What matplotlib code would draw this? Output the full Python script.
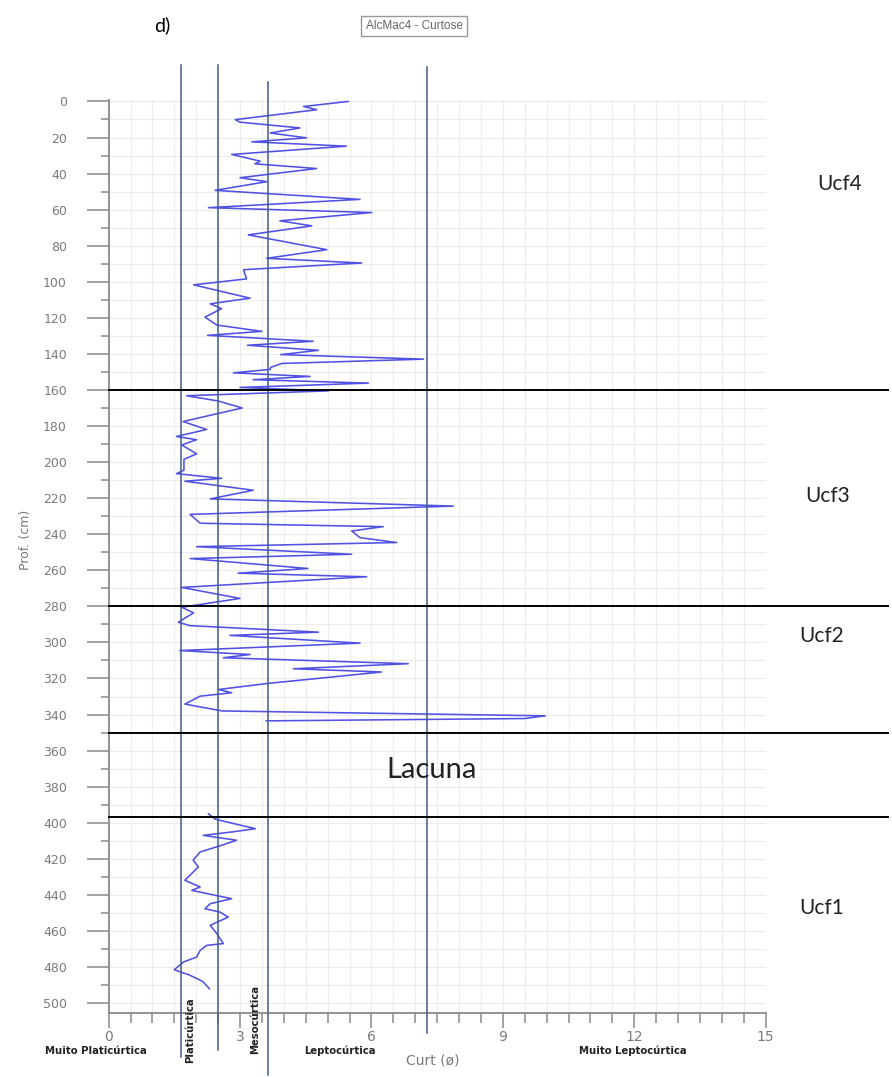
import matplotlib
matplotlib.use("Agg")
import matplotlib.pyplot as plt
from matplotlib.ticker import MultipleLocator

# ---------------- data ----------------
# Kurtosis profile, upper units (Ucf4 - Ucf2), depth in cm
upper_depth = [0, 2.8, 4.6, 10.1, 11.5, 14.7, 17.5, 20.2, 22.4, 24.8, 29.4, 33.1, 34.6,
               37.2, 42.3, 44.5, 49.3, 54.3, 58.9, 61.6, 66.2, 69.0, 74.0, 82.2, 87.0,
               89.6, 93.3, 98.4, 101.7, 109.1, 112.2, 114.9, 119.6, 124.0, 127.5, 129.7,
               133.0, 135.2, 138.0, 140.4, 142.9, 145.3, 147.5, 148.6, 150.5, 152.5,
               154.3, 156.2, 158.6, 160.5, 163.2, 166.1, 170.0, 177.5, 181.9, 185.8,
               187.6, 190.5, 195.4, 198.5, 204.5, 206.4, 209.0, 210.6, 215.6, 220.4,
               224.4, 229.0, 233.9, 235.8, 238.2, 241.9, 244.6, 246.9, 251.1, 253.5,
               259.0, 261.6, 263.6, 269.5, 275.6, 280.5, 283.6, 288.8, 290.7, 294.3,
               296.1, 300.4, 304.5, 306.7, 308.5, 311.8, 314.6, 316.4, 322.8, 326.1,
               327.9, 329.8, 334.2, 338.0, 340.7, 342.2, 343.5]
upper_curt = [5.47, 4.45, 4.75, 2.89, 3.00, 4.37, 3.69, 4.52, 3.27, 5.43, 2.81, 3.46, 3.34,
              4.75, 3.00, 3.61, 2.43, 5.74, 2.28, 6.01, 3.91, 4.64, 3.19, 4.98, 3.61,
              5.78, 3.08, 3.15, 1.94, 3.23, 2.32, 2.58, 2.20, 2.47, 3.50, 2.26,
              4.67, 3.17, 4.79, 3.93, 7.19, 3.95, 3.70, 3.69, 2.85, 4.60,
              3.30, 5.93, 3.00, 5.02, 1.78, 2.50, 3.05, 1.70, 2.24, 1.55,
              2.01, 1.67, 2.01, 1.72, 1.72, 1.55, 2.58, 1.74, 3.30, 2.32,
              7.87, 1.86, 2.09, 6.27, 5.55, 5.74, 6.58, 2.01, 5.55, 1.86,
              4.55, 2.96, 5.89, 1.67, 3.00, 1.67, 1.94, 1.59, 1.86, 4.79,
              2.77, 5.74, 1.63, 3.23, 2.62, 6.84, 4.22, 6.23, 3.61, 2.51,
              2.81, 2.09, 1.74, 2.60, 9.97, 9.50, 3.60]

# Kurtosis profile, lower unit (Ucf1)
lower_depth = [395, 398, 403.3, 405, 407, 409.7, 412.5, 416.2, 420.8, 424.5, 431.9, 435.6,
               437.5, 440.2, 442.1, 444.9, 447.7, 449.5, 452.3, 456.9, 461.5, 467, 468,
               470.8, 474.5, 477.2, 481.5, 484.5, 488.0, 492.0]
lower_curt = [2.28, 2.43, 3.35, 2.85, 2.16, 2.92, 2.58, 2.09, 1.93, 2.05, 1.74, 2.09,
              1.90, 2.43, 2.81, 2.32, 2.20, 2.54, 2.73, 2.32, 2.47, 2.62, 2.24,
              2.09, 2.01, 1.71, 1.50, 1.85, 2.15, 2.30]

# Kurtosis class limits and names
class_limits = [1.65, 2.5, 3.65, 7.27]
class_names = ["Muito Platicúrtica", "Platicúrtica", "Mesocúrtica",
               "Leptocúrtica", "Muito Leptocúrtica"]

# Stratigraphic unit boundaries (cm) and labels
unit_bounds = [160, 280, 350, 397]
unit_names = ["Ucf4", "Ucf3", "Ucf2", "Lacuna", "Ucf1"]

x_ticks = [0, 3, 6, 9, 12, 15]

# ---------------- figure ----------------
W, H = 892, 1077
fig = plt.figure(figsize=(W / 100, H / 100), dpi=100)
ax = fig.add_axes([108.6 / W, 1 - 1013 / H, 657 / W, 913 / H])


def ftext(x, y, s, **kw):
    fig.text(x / W, 1 - y / H, s, **kw)


gray = "#7a7a7a"
axis_font = ["DejaVu Sans"]
calib = ["Lato", "DejaVu Sans"]

ax.set_xlim(0, 15)
ax.set_ylim(505.5, -0.8)

ax.grid(which="both", color="#ececec", lw=0.8)
ax.set_axisbelow(True)

ax.plot(upper_curt, upper_depth, color="#5151e4", lw=1.15, zorder=3)
ax.plot(lower_curt, lower_depth, color="#5151e4", lw=1.15, zorder=3)

# class limits
vspan = [(-0.048, 1.038), (-0.040, 1.038), (-0.068, 1.020), (-0.022, 1.036)]
for v, (lo, hi) in zip(class_limits, vspan):
    ax.axvline(v, ymin=lo, ymax=hi, color="#3f5c8c", lw=1.1, clip_on=False, zorder=4)

# unit boundaries
for d in unit_bounds:
    ax.axhline(d, xmin=0, xmax=1.186, color="black", lw=1.4, clip_on=False, zorder=5)

# axes styling
for s in ["top", "right"]:
    ax.spines[s].set_visible(False)
for s in ["left", "bottom"]:
    ax.spines[s].set_color("#8a8a8a")
    ax.spines[s].set_linewidth(1.3)

ax.set_xticks(x_ticks)
ax.xaxis.set_minor_locator(MultipleLocator(0.5))
ax.yaxis.set_major_locator(MultipleLocator(20))
ax.yaxis.set_minor_locator(MultipleLocator(10))
ax.tick_params(axis="x", which="major", length=11, width=1.1, color="#8a8a8a",
               labelcolor=gray, labelsize=10, pad=1)
ax.tick_params(axis="x", which="minor", length=7, width=1.1, color="#8a8a8a")
ax.tick_params(axis="y", which="major", length=16, width=1.1, color="#8a8a8a",
               labelcolor=gray, labelsize=9, pad=14)
ax.tick_params(axis="y", which="minor", length=6, width=1.1, color="#8a8a8a")
for lab in ax.get_xticklabels() + ax.get_yticklabels():
    lab.set_fontfamily(axis_font)

ftext(26, 540, "Prof. (cm)", rotation=90, ha="center", va="center",
      color=gray, fontsize=9, family=axis_font)
ftext(433, 1060, "Curt (ø)", ha="center", va="center", color=gray,
      fontsize=10, family=axis_font)

# class names along the x axis
cat_kw = dict(color="#222222", fontsize=7.3, family=axis_font, fontweight="bold")
ftext(96, 1051, class_names[0], ha="center", va="center", **cat_kw)
ftext(190, 1030, class_names[1], ha="center", va="center", rotation=90, **cat_kw)
ftext(255, 1019, class_names[2], ha="center", va="center", rotation=90, **cat_kw)
ftext(340, 1051, class_names[3], ha="center", va="center", **cat_kw)
ftext(633, 1051, class_names[4], ha="center", va="center", **cat_kw)

# headings
ftext(162, 25, "d)", ha="center", va="center", fontsize=14, family=calib)
ftext(414, 26, "AlcMac4 - Curtose", ha="center", va="center", color="#666666",
      fontsize=8.5, family=["Liberation Sans"],
      bbox=dict(boxstyle="square,pad=0.35", fc="white", ec="#999999", lw=1))

# unit labels
unit_pos = [(840, 184), (828, 496), (822, 636), (432, 770), (822, 908)]
for name, (px, py) in zip(unit_names, unit_pos):
    ftext(px, py, name, ha="center", va="center", family=calib,
          fontsize=21 if name == "Lacuna" else 15, color="#222222")

fig.savefig("out.png", dpi=100)
